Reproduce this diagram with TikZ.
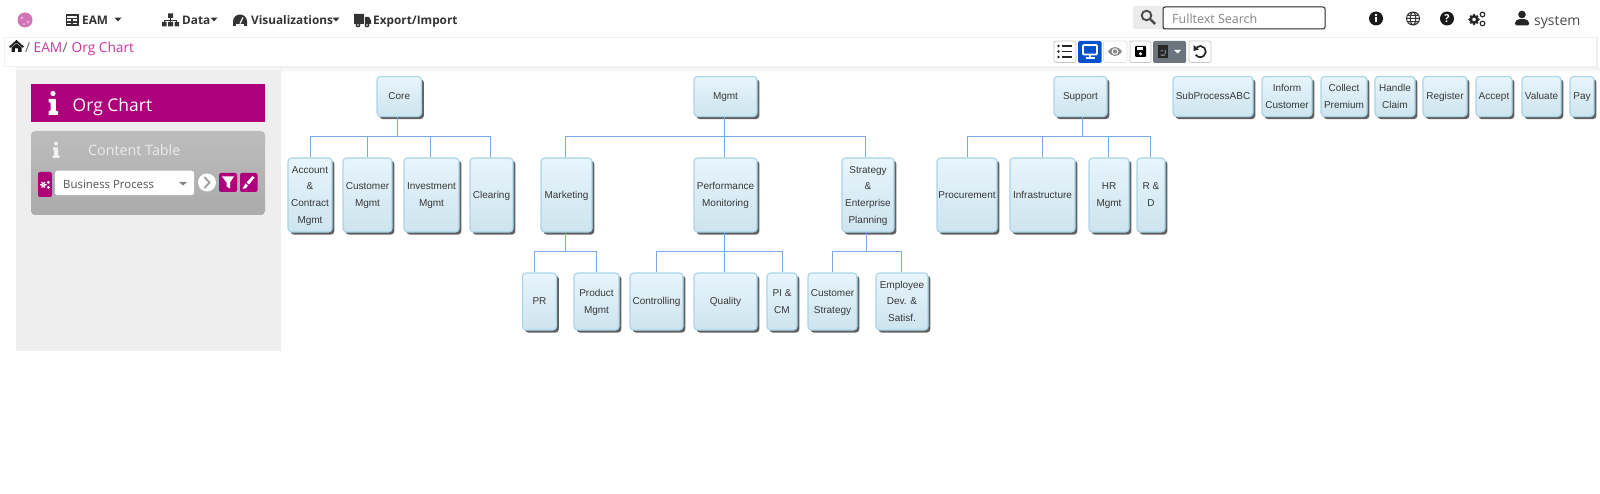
\documentclass[tikz,border=0pt]{standalone}
\usepackage{fontspec}
\setmainfont{Open Sans}
\newfontfamily\boxfont{Liberation Sans}
\usetikzlibrary{shadows,calc}
\definecolor{mag}{HTML}{AE007A}
\definecolor{crumb}{HTML}{C9369E}
\definecolor{navtxt}{HTML}{333333}
\definecolor{barline}{HTML}{EFEFEF}
\definecolor{connc}{HTML}{74A9E6}
\definecolor{boxline}{HTML}{A9D5EA}
\definecolor{boxtop}{HTML}{E8F5FC}
\definecolor{boxbot}{HTML}{CDE4EE}
\definecolor{docbtn}{HTML}{6C757D}
\tikzset{
  x=1pt,y=-1pt,
  orgbox/.style={draw=boxline,line width=1.1pt,rounded corners=3.5pt,top color=boxtop,bottom color=boxbot,
    general shadow={fill=black!62,shadow xshift=2.4pt,shadow yshift=-2.6pt},
    inner sep=0pt,align=center,text=black!78,font=\boxfont\fontsize{10}{16.7}\selectfont},
  conn/.style={draw=connc,line width=1pt},
  nav/.style={font=\fontsize{11.8}{15}\selectfont\bfseries,text=navtxt,anchor=base west,inner sep=0pt},
  crumbtxt/.style={anchor=base west,inner sep=0pt,font=\fontsize{13.7}{16}\selectfont},
  caret/.style={fill=navtxt,draw=none},
  tool/.style={draw=black!22,line width=.7pt,rounded corners=2pt,fill=white},
  magbtn/.style={fill=mag,draw=none,rounded corners=2pt},
}
\newcommand{\obox}[6]{\node[orgbox,minimum width=#4-#2,minimum height=#5-#3] (#1) at ({(#2+#4)/2},{(#3+#5)/2}) {\raisebox{-1.8pt}{\begin{tabular}{@{}c@{}}#6\end{tabular}}};}
\newcommand{\link}[5]{\draw[conn] ([xshift=#2pt]#1.south) -- ([xshift=#2pt]#1.south |- 0,#5) -| ([xshift=#4pt]#3.north);}
\newcommand{\caretat}[2]{\fill[caret] (#1-3.5,#2-1.8) -- (#1+3.5,#2-1.8) -- (#1,#2+1.8) -- cycle;}
\begin{document}
\begin{tikzpicture}
\useasboundingbox (0,0) rectangle (1600,494);
\fill[white] (0,0) rectangle (1600,494);
% ---------- top nav
\fill[mag!55!white] (25,20) circle (7.5);
\fill[mag!30!white] (22,18) circle (1.5) (28,22) circle (1.6) (24,24) circle (1.2);
\draw[navtxt,line width=1.1pt] (66.5,15) rectangle (78,25) (66.5,18.5) -- (78,18.5) (66.5,22) -- (78,22) (72,18.5) -- (72,25);
\node[nav] (eam) at (82,24.3) {EAM};
\caretat{118}{19.5}
% sitemap
\fill[navtxt] (168,13.5) rectangle (173,18) (162,22) rectangle (166.5,26.5) (168,22) rectangle (173,26.5) (174.5,22) rectangle (179,26.5);
\draw[navtxt,line width=.9pt] (170.5,18) -- (170.5,22) (164.2,22) -- (164.2,20) -- (176.7,20) -- (176.7,22);
\node[nav] (data) at (182,24.3) {Data};
\caretat{214}{19.5}
% gauge
\fill[navtxt] (233,21.5) arc (180:360:7) -- (247,26) -- (233,26) -- cycle;
\fill[white] (236,24.5) rectangle (244,26.5);
\draw[white,line width=1.3pt] (240,23.5) -- (243,17.5);
\node[nav] (vis) at (251,24.3) {Visualizations};
\caretat{336}{19.5}
% truck
\fill[navtxt] (354,14) rectangle (364,24) (365,17) -- (369,17) -- (371,20.5) -- (371,24) -- (365,24) -- cycle;
\fill[navtxt] (358,25) circle (2.4) (367,25) circle (2.4);
\fill[white] (358,25) circle (.9) (367,25) circle (.9);
\node[nav] (exp) at (373,24.3) {Export/Import};
% search
\fill[black!8,rounded corners=2.5pt] (1133,6) rectangle (1164,29);
\draw[black!70,line width=1.9pt] (1146.5,15.5) circle (4.8);
\draw[black!70,line width=2.5pt] (1150.2,19.2) -- (1155,24);
\node[draw=black!85,line width=1pt,rounded corners=2pt,fill=white,minimum width=162pt,minimum height=22pt,inner sep=0pt] (search) at (1244,18) {};
\node[anchor=base west,inner sep=0pt,text=black!48,font=\fontsize{12.5}{15}\selectfont] (searcht) at (1172,23.5) {Fulltext Search};
% right icons
\fill[black!90] (1376,18.5) circle (7);
\fill[white] (1376,15) circle (1.3);
\fill[white] (1374.6,17.2) rectangle (1377.4,22.5);
\draw[black!80,line width=1pt] (1413,18.5) circle (6.5) (1413,18.5) ellipse (2.8 and 6.5) (1406.5,18.5) -- (1419.5,18.5) (1407.4,15.3) -- (1418.6,15.3) (1407.4,21.7) -- (1418.6,21.7);
\fill[black!90] (1447,18.5) circle (7);
\node[text=white,inner sep=0pt,font=\fontsize{11}{11}\selectfont\bfseries] (help) at (1447,18.5) {?};
\draw[black!85,line width=2.4pt] (1474,19.5) circle (3.2);
\draw[black!85,line width=1.1pt] (1482.5,14.5) circle (2.3) (1482.5,23.5) circle (2.3);
\foreach \a in {0,45,...,315}{\fill[black!85] ($(1474,19.5)+(\a:4.4)$) circle (1.4);}
\fill[black!85] (1522,14.5) circle (3.8);
\fill[black!85,rounded corners=1.5pt] (1515,25.5) -- (1515,21.5) -- (1518,19.2) -- (1526,19.2) -- (1529,21.5) -- (1529,25.5) -- cycle;
\node[anchor=base west,inner sep=0pt,text=black!70,font=\fontsize{14}{16}\selectfont] (user) at (1534,25.2) {system};
% ---------- breadcrumb bar
\shade[top color=barline!70!white,bottom color=white] (16,68) rectangle (1600,73);
\draw[barline,line width=1.6pt] (4.5,37.7) rectangle (1597,66.7);
% home
\fill[black!90] (9,46.8) -- (16.5,40) -- (24,46.8) -- (22.6,47.8) -- (16.5,42.6) -- (10.4,47.8) -- cycle;
\fill[black!90] (11.5,47.5) -- (16.5,43.5) -- (21.5,47.5) -- (21.5,52) -- (18.2,52) -- (18.2,48.5) -- (14.8,48.5) -- (14.8,52) -- (11.5,52) -- cycle;
\node[crumbtxt,text=black!60] (s1) at (25,53) {/};
\node[crumbtxt,text=crumb] (c1) at (33.5,53) {EAM};
\node[crumbtxt,text=black!60] (s2) at (62.5,53) {/};
\node[crumbtxt,text=crumb] (c2) at (71.5,53) {Org Chart};
% toolbar
\draw[tool] (1054,41) rectangle (1076,62.5);
\fill[black!85] (1058.5,46) circle (1.4) (1058.5,51.5) circle (1.4) (1058.5,57) circle (1.4);
\draw[black!85,line width=1.8pt] (1062,46) -- (1072,46) (1062,51.5) -- (1072,51.5) (1062,57) -- (1072,57);
\fill[blue!60!cyan!80!black,rounded corners=1.5pt] (1078,41) rectangle (1101.5,63);
\draw[white,line width=1.9pt,rounded corners=1pt] (1083,45) rectangle (1097,54.5);
\draw[white,line width=1.6pt] (1090,55) -- (1090,58) (1085.5,58.3) -- (1094.5,58.3);
\draw[tool,draw=black!12] (1103.5,41) rectangle (1127,62.5);
\fill[black!45] (1108,51.5) .. controls (1112,45.5) and (1118,45.5) .. (1122,51.5) .. controls (1118,57.5) and (1112,57.5) .. (1108,51.5) -- cycle;
\fill[white] (1115,51.5) circle (3.3);
\fill[black!45] (1115,51.5) circle (2.2);
\draw[tool] (1130,41) rectangle (1151,62.5);
\fill[black,rounded corners=1pt] (1135,46) rectangle (1146,57);
\fill[white] (1137.3,47.3) rectangle (1143,50.3);
\fill[white] (1140.5,53.8) circle (1.7);
\fill[docbtn,rounded corners=1.5pt] (1153,41) rectangle (1186,63);
\fill[black!85] (1158,45.5) rectangle (1168,58);
\fill[docbtn] (1160.5,50) rectangle (1163,51.5) (1164.5,50) rectangle (1166,54) (1160.5,54.5) rectangle (1165,56);
\fill[white] (1174,50) -- (1181,50) -- (1177.5,53.5) -- cycle;
\draw[tool] (1189,41) rectangle (1211,62.5);
\draw[black!85,line width=1.7pt] (1196.6,47.3) arc (-130:145:5.6);
\fill[black!85] (1193.5,45) -- (1193.5,51) -- (1199,49.5) -- cycle;
% ---------- sidebar
\fill[black!6.5] (16,70) rectangle (280.5,351);
\fill[mag] (31,84) rectangle (265,122);
\fill[white] (53,93.5) circle (2.6);
\fill[white,rounded corners=.6pt] (48.5,99) -- (55.8,99) -- (55.8,111) -- (58,111) -- (58,115) -- (48.5,115) -- (48.5,111) -- (50.5,111) -- (50.5,102.5) -- (48.5,102.5) -- cycle;
\node[anchor=base west,inner sep=0pt,text=white,font=\fontsize{17.5}{20}\selectfont] (orgt) at (72.5,111.5) {Org Chart};
\shade[top color=black!26,bottom color=black!33,rounded corners=4pt] (31,131) rectangle (265,215);
\fill[white!94!black] (56,143.5) circle (2);
\fill[white!94!black,rounded corners=.5pt] (53,147.5) -- (58,147.5) -- (58,155.5) -- (59.5,155.5) -- (59.5,158) -- (52.5,158) -- (52.5,155.5) -- (54,155.5) -- (54,150) -- (53,150) -- cycle;
\node[anchor=base west,inner sep=0pt,text=white!92!black,font=\fontsize{14.3}{18}\selectfont] (ctab) at (88,155.6) {Content Table};
\fill[magbtn] (38,172) rectangle (52,197);
\draw[white,line width=1.3pt] (43.3,184.8) circle (1.6);
\fill[white] (48.3,182.4) circle (1.6) (48.3,187.4) circle (1.6);
\foreach \a in {0,60,...,300}{\fill[white] ($(43.3,184.8)+(\a:2.7)$) circle (.8);}
\node[fill=white,rounded corners=2.5pt,minimum width=139pt,minimum height=24.5pt,inner sep=0pt] (sel) at (124.5,183) {};
\node[anchor=base west,inner sep=0pt,text=black!68,font=\fontsize{11.4}{15}\selectfont] (selt) at (63,188.8) {Business Process};
\fill[black!48] (179,182) -- (187,182) -- (183,185.5) -- cycle;
\fill[white] (207,182.5) circle (9);
\draw[black!38,line width=1.8pt] (204.5,177) -- (209.5,182.5) -- (204.5,188);
\fill[magbtn] (219,173) rectangle (237,192);
\fill[white] (222,176.5) -- (234,176.5) -- (230,182.5) -- (230,188.5) -- (226.5,186.5) -- (226.5,182.5) -- cycle;
\fill[magbtn] (240,173) rectangle (257.5,192);
\fill[white] (252.5,176) -- (254.5,177.5) -- (249,184.5) -- (246.5,182.5) -- cycle;
\fill[white] (245.5,183.5) -- (248,185.5) .. controls (247,188.5) and (245,189) .. (242.5,188.8) .. controls (244.5,187.5) and (243.5,185) .. (245.5,183.5) -- cycle;
% ---------- org chart boxes
\obox{core}{377}{76.5}{421.5}{116.5}{Core}
\obox{mgmt}{694}{76.5}{757}{116.5}{Mgmt}
\obox{support}{1054}{76.5}{1107}{116.5}{Support}
\obox{acc}{288}{158}{332}{232}{Account\\\&\\Contract\\Mgmt}
\obox{cust}{343}{158}{392}{232}{Customer\\Mgmt}
\obox{inv}{404}{158}{459}{232}{Investment\\Mgmt}
\obox{clr}{470}{158}{513}{232}{Clearing}
\obox{mkt}{541}{158}{592}{232}{Marketing}
\obox{perf}{694}{158}{757}{232}{Performance\\Monitoring}
\obox{strat}{842}{158}{894}{232}{Strategy\\\&\\Enterprise\\Planning}
\obox{proc}{937}{158}{997}{232}{Procurement}
\obox{infra}{1010}{158}{1075}{232}{Infrastructure}
\obox{hr}{1089}{158}{1129}{232}{HR\\Mgmt}
\obox{rd}{1137}{158}{1165}{232}{R \&\\D}
\obox{pr}{522.5}{273}{556.5}{330}{PR}
\obox{prod}{574}{273}{619}{330}{Product\\Mgmt}
\obox{ctrl}{630}{273}{683}{330}{Controlling}
\obox{qual}{694}{273}{757}{330}{Quality}
\obox{pi}{767}{273}{797}{330}{PI \&\\CM}
\obox{cstr}{808}{273}{857}{330}{Customer\\Strategy}
\obox{emp}{876}{273}{928}{330}{Employee\\Dev. \&\\Satisf.}
\obox{sub}{1173}{76.5}{1253}{116.5}{SubProcessABC}
\obox{inf}{1262}{76.5}{1312}{116.5}{Inform\\Customer}
\obox{col}{1321}{76.5}{1367}{116.5}{Collect\\Premium}
\obox{han}{1375}{76.5}{1415}{116.5}{Handle\\Claim}
\obox{reg}{1423}{76.5}{1467}{116.5}{Register}
\obox{acp}{1476}{76.5}{1512}{116.5}{Accept}
\obox{val}{1522}{76.5}{1561}{116.5}{Valuate}
\obox{pay}{1570}{76.5}{1594}{116.5}{Pay}
% ---------- connectors
\link{core}{-1.5}{acc}{0}{137}
\link{core}{-1.5}{cust}{0}{137}
\link{core}{-1.5}{inv}{-1.5}{137}
\link{core}{-1.5}{clr}{-1.5}{137}
\link{mgmt}{-1.5}{mkt}{-1.5}{137}
\link{mgmt}{-1.5}{perf}{-1.5}{137}
\link{mgmt}{-1.5}{strat}{-3}{137}
\link{support}{2}{proc}{0}{137}
\link{support}{2}{infra}{0}{137}
\link{support}{2}{hr}{-0.5}{137}
\link{support}{2}{rd}{-1}{137}
\link{mkt}{-1.5}{pr}{-5.5}{252}
\link{mkt}{-1.5}{prod}{0}{252}
\link{perf}{-1.5}{ctrl}{0}{252}
\link{perf}{-1.5}{qual}{-1.5}{252}
\link{perf}{-1.5}{pi}{0}{252}
\link{strat}{-2}{cstr}{0}{252}
\link{strat}{-2}{emp}{-1}{252}
\end{tikzpicture}
\end{document}
